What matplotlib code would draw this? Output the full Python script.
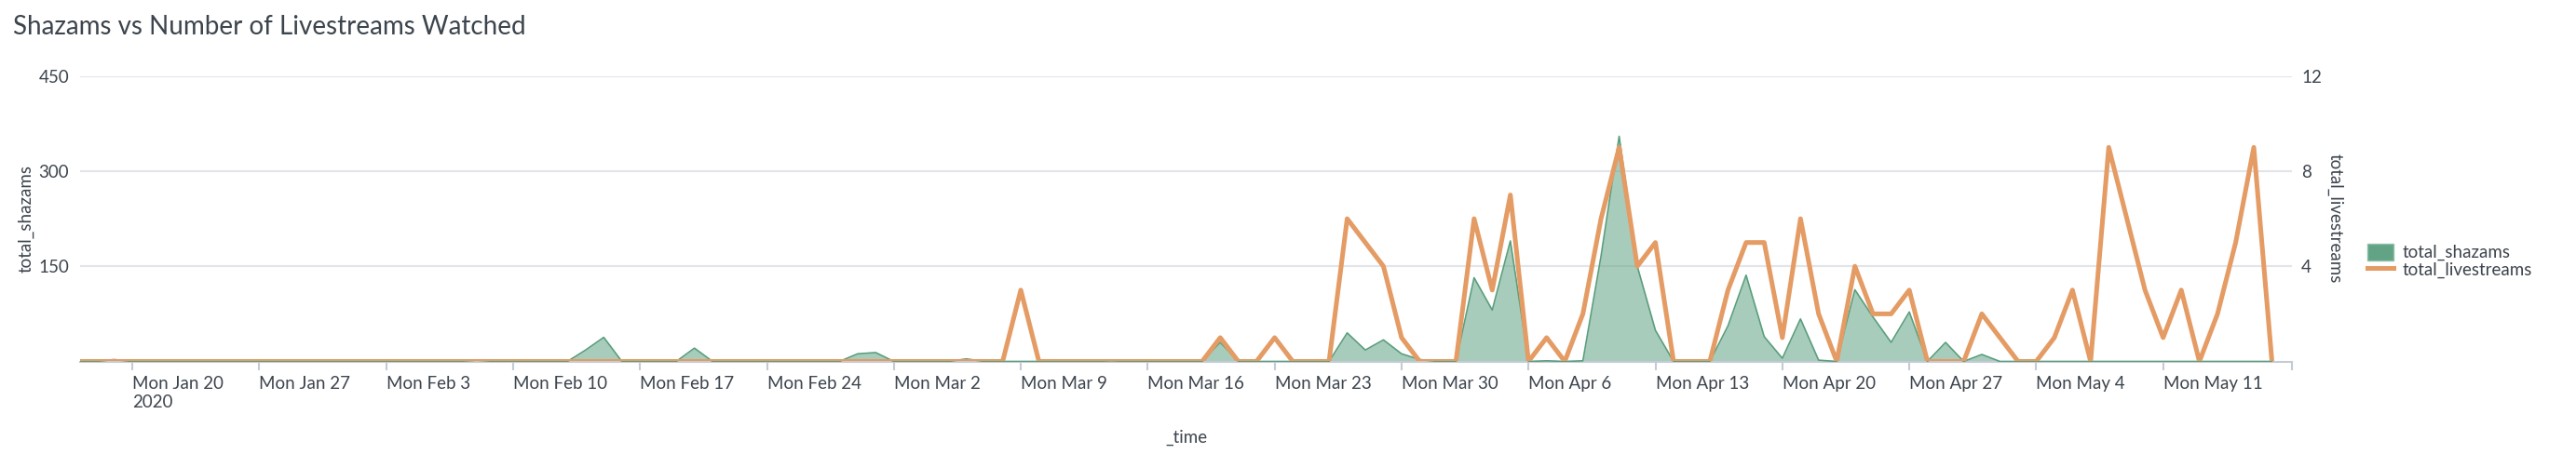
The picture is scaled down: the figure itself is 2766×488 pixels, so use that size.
import matplotlib
matplotlib.use('Agg')
import matplotlib.pyplot as plt
from matplotlib.patches import Patch
from matplotlib.lines import Line2D
import pandas as pd

plt.rcParams['font.family'] = ['Lato', 'DejaVu Sans']

# ---------------- data ----------------
start_date = '2020-01-17'
end_date = '2020-05-17'

total_shazams = [
    0, 0, 3, 0, 0, 0, 0, 0, 0, 0,          # Jan 17 - Jan 26
    0, 0, 0, 0, 0, 0, 0, 0, 0, 0,          # Jan 27 - Feb 5
    0, 0, 2, 0, 0, 0, 0, 0, 18, 38,        # Feb 6 - Feb 15
    0, 0, 0, 0, 21, 0, 0, 0, 0, 0,         # Feb 16 - Feb 25
    0, 0, 0, 12, 14, 0, 0, 0, 0, 4,        # Feb 26 - Mar 6
    0, 0, 0, 0, 0, 0, 0, 1, 0, 0,          # Mar 7 - Mar 16
    0, 0, 0, 30, 0, 0, 0, 0, 0, 0,         # Mar 17 - Mar 26
    45, 18, 34, 12, 3, 0, 0, 132, 81, 190, # Mar 27 - Apr 5
    0, 1, 0, 1, 166, 355, 150, 49, 0, 0,   # Apr 6 - Apr 15
    0, 56, 136, 39, 5, 67, 2, 0, 113, 70,  # Apr 16 - Apr 25
    30, 78, 0, 30, 0, 11, 0, 0, 0, 0,      # Apr 26 - May 5
    0, 0, 0, 0, 0, 0, 0, 0, 0, 0,          # May 6 - May 15
    0, 0,                                  # May 16 - May 17
]

total_livestreams = [
    0, 0, 0, 0, 0, 0, 0, 0, 0, 0,
    0, 0, 0, 0, 0, 0, 0, 0, 0, 0,
    0, 0, 0, 0, 0, 0, 0, 0, 0, 0,
    0, 0, 0, 0, 0, 0, 0, 0, 0, 0,
    0, 0, 0, 0, 0, 0, 0, 0, 0, 0,
    0, 0, 3, 0, 0, 0, 0, 0, 0, 0,
    0, 0, 0, 1, 0, 0, 1, 0, 0, 0,
    6, 5, 4, 1, 0, 0, 0, 6, 3, 7,
    0, 1, 0, 2, 6, 9, 4, 5, 0, 0,
    0, 3, 5, 5, 1, 6, 2, 0, 4, 2,
    2, 3, 0, 0, 0, 2, 1, 0, 0, 1,
    3, 0, 9, 6, 3, 1, 3, 0, 2, 5,
    9, 0,
]

tick_dates = ['2020-01-20', '2020-01-27', '2020-02-03', '2020-02-10', '2020-02-17',
              '2020-02-24', '2020-03-02', '2020-03-09', '2020-03-16', '2020-03-23',
              '2020-03-30', '2020-04-06', '2020-04-13', '2020-04-20', '2020-04-27',
              '2020-05-04', '2020-05-11']
tick_labels = ['Mon Jan 20\n2020', 'Mon Jan 27', 'Mon Feb 3', 'Mon Feb 10', 'Mon Feb 17',
               'Mon Feb 24', 'Mon Mar 2', 'Mon Mar 9', 'Mon Mar 16', 'Mon Mar 23',
               'Mon Mar 30', 'Mon Apr 6', 'Mon Apr 13', 'Mon Apr 20', 'Mon Apr 27',
               'Mon May 4', 'Mon May 11']
left_ticks = [150, 300, 450]
right_ticks = [4, 8, 12]

# ---------------- styling ----------------
GREEN = '#62a385'
GREEN_EDGE = '#5a9e7c'
ORANGE = '#e49b64'
TEXT = '#3c444d'
GRID = '#e1e5ea'
AXIS = '#c3cbd4'
FS = 13.5

dates = pd.date_range(start_date, end_date, freq='D')

W, H = 2766, 488
fig = plt.figure(figsize=(W / 100, H / 100), dpi=100)
L, R, T, B = 86, 2461, 81.7, 388.5
ax = fig.add_axes([L / W, 1 - B / H, (R - L) / W, (B - T) / H])

ax.fill_between(dates, 0, total_shazams, color=GREEN, alpha=0.55, linewidth=0, zorder=2)
ax.plot(dates, total_shazams, color=GREEN_EDGE, lw=1.2, zorder=3)

ax2 = ax.twinx()
ax2.plot(dates, total_livestreams, color=ORANGE, lw=3.6, zorder=4)

xmin = dates[0] + pd.Timedelta(hours=2.9)
xmax = dates[-1] + pd.Timedelta(days=1, hours=2.5)
ax.set_xlim(xmin, xmax)
ax.set_ylim(0, 450)
ax2.set_ylim(0, 12)

for a in (ax, ax2):
    for s in ('top', 'left', 'right'):
        a.spines[s].set_visible(False)
ax2.spines['bottom'].set_visible(False)
ax.spines['bottom'].set_color(AXIS)
ax.spines['bottom'].set_linewidth(1.5)

ax.set_axisbelow(True)
ax.yaxis.grid(True, color=GRID, lw=1.5)
ax.xaxis.grid(False)

ax.set_yticks(left_ticks)
ax.tick_params(axis='y', length=0, pad=8.6, labelsize=FS, labelcolor=TEXT)
ax2.set_yticks(right_ticks)
ax2.tick_params(axis='y', length=0, pad=7.2, labelsize=FS, labelcolor=TEXT)

ax.set_xticks(pd.to_datetime(tick_dates))
ax.set_xticklabels(tick_labels, ha='left')
ax.set_xticks([xmax], minor=True)
ax.tick_params(axis='x', which='both', length=6.5, width=1.5, color=AXIS,
               pad=5, labelsize=FS, labelcolor=TEXT)
for lab in ax.get_xticklabels():
    lab.set_horizontalalignment('left')

ax.set_ylabel('total_shazams', fontsize=FS, color=TEXT, va='center', ha='center')
ax.yaxis.set_label_coords(-0.0244, 0.5)
ax2.set_ylabel('total_livestreams', fontsize=FS, color=TEXT, rotation=270,
               va='center', ha='center')
ax2.yaxis.set_label_coords(1.0194, 0.5)

fig.text(14 / W, 1 - 36.7 / H, 'Shazams vs Number of Livestreams Watched',
         fontsize=20, color=TEXT, ha='left', va='baseline')
fig.text((L + R) / 2 / W, 1 - 476 / H, '_time', fontsize=FS, color=TEXT,
         ha='center', va='baseline')

handles = [Patch(facecolor=GREEN, edgecolor='#8fc0a8', linewidth=1),
           Line2D([], [], color=ORANGE, lw=3.6)]
fig.legend(handles, ['total_shazams', 'total_livestreams'], loc='upper left',
           bbox_to_anchor=(2541.7 / W, 1 - 261.7 / H), frameon=False,
           fontsize=FS, handlelength=1.5, handleheight=1.1, handletextpad=0.5,
           labelspacing=0.0, borderpad=0, borderaxespad=0, labelcolor=TEXT)

fig.savefig('out.png', dpi=100)
